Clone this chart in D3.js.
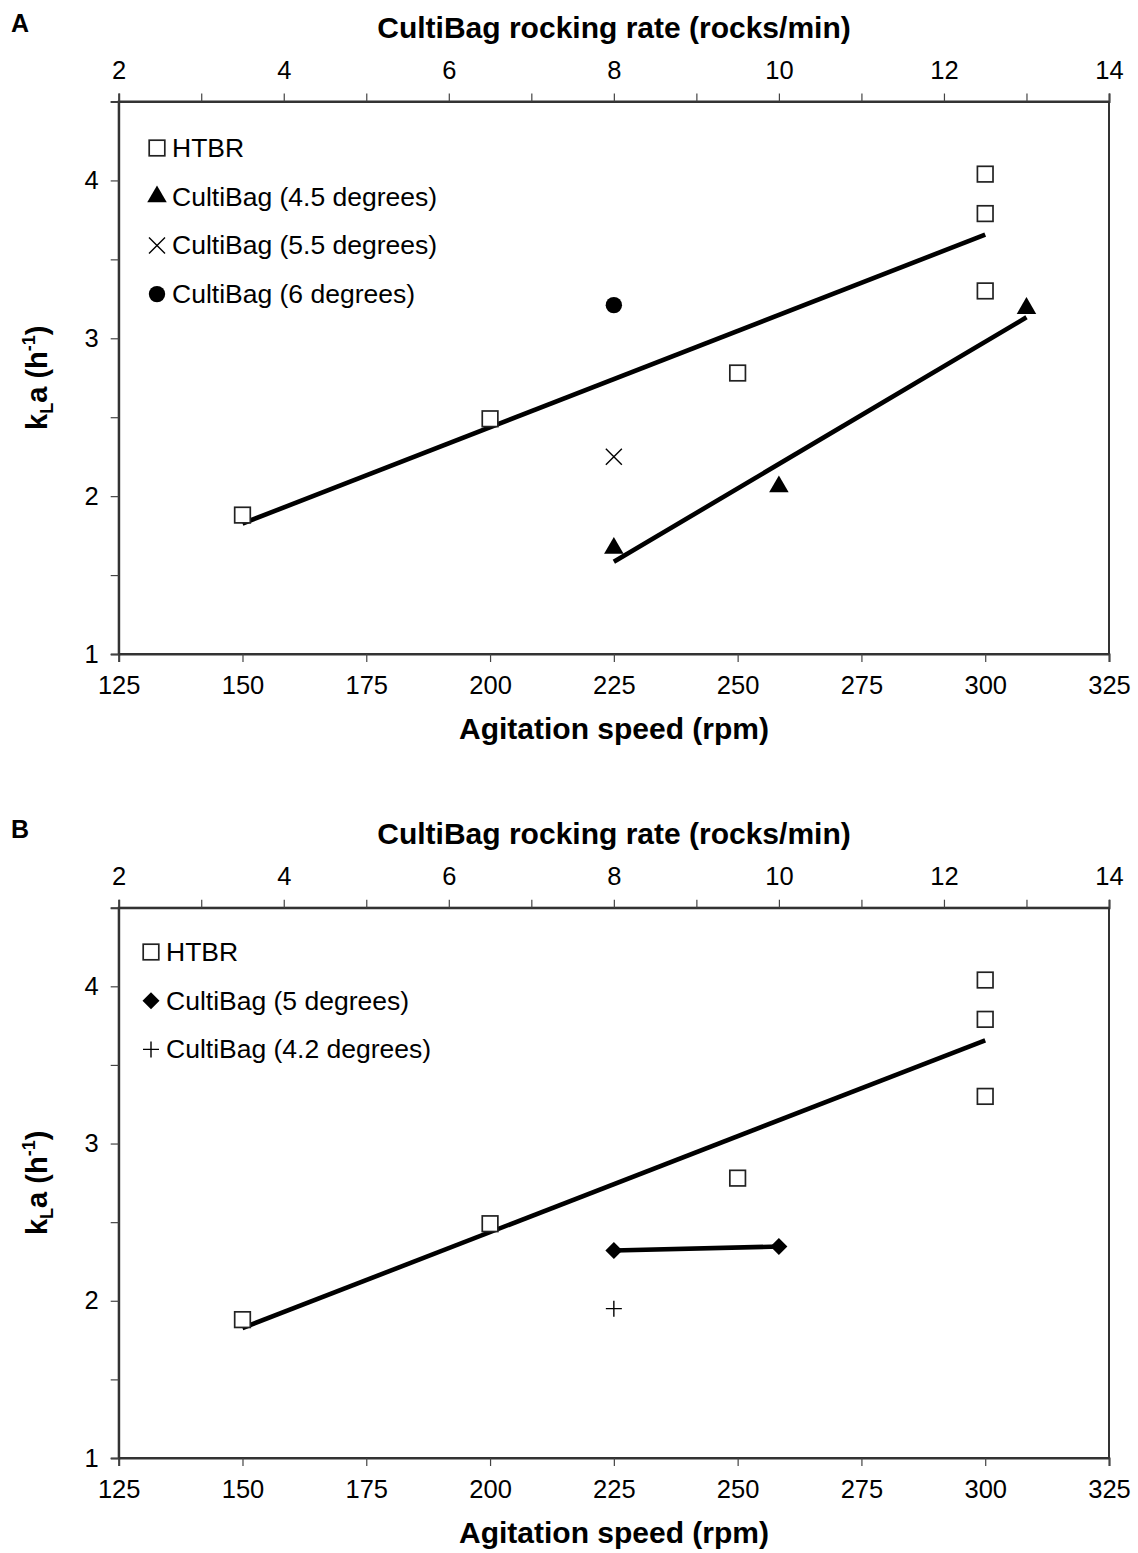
<!DOCTYPE html>
<html>
<head>
<meta charset="utf-8">
<script src="https://cdn.jsdelivr.net/npm/d3@7/dist/d3.min.js"></script>
<style>
  html, body { margin: 0; padding: 0; background: #fff; }
  svg { display: block; font-family: "Liberation Sans", Arial, sans-serif; }
</style>
</head>
<body>
<svg id="chart" width="1138" height="1553"></svg>
<script>
// ---------------- data ----------------
const rpmTicks = [125, 150, 175, 200, 225, 250, 275, 300, 325];
const rockTicks = [2, 3, 4, 5, 6, 7, 8, 9, 10, 11, 12, 13, 14];
const klaTicks = [1, 1.5, 2, 2.5, 3, 3.5, 4, 4.5];

const htbrRpm = [150, 200, 250, 300, 300, 300];
const htbrKla = [1.88, 2.49, 2.78, 4.04, 3.79, 3.30];

const cb45Rocks = [8, 10, 13];
const cb45Kla = [1.67, 2.06, 3.19];

const cb55Rocks = [8];
const cb55Kla = [2.25];

const cb6Rocks = [8];
const cb6Kla = [3.21];

const cb5Rocks = [8, 10];
const cb5Kla = [2.32, 2.345];

const cb42Rocks = [8];
const cb42Kla = [1.95];

const legendA = ["HTBR", "CultiBag (4.5 degrees)", "CultiBag (5.5 degrees)", "CultiBag (6 degrees)"];
const legendB = ["HTBR", "CultiBag (5 degrees)", "CultiBag (4.2 degrees)"];

// ---------------- helpers ----------------
function fit(xs, ys) {
  const n = xs.length;
  const mx = d3.mean(xs), my = d3.mean(ys);
  let sxy = 0, sxx = 0;
  for (let i = 0; i < n; i++) { sxy += (xs[i] - mx) * (ys[i] - my); sxx += (xs[i] - mx) ** 2; }
  const b = sxy / sxx, a = my - b * mx;
  const x0 = d3.min(xs), x1 = d3.max(xs);
  return [[x0, a + b * x0], [x1, a + b * x1]];
}

const svg = d3.select("#chart");
const FONT = "'Liberation Sans', Arial, sans-serif";

function marker(g, type, cx, cy) {
  const s = 7.8;
  if (type === "square") {
    g.append("rect").attr("x", cx - s).attr("y", cy - s).attr("width", 2 * s).attr("height", 2 * s)
      .attr("fill", "#fff").attr("stroke", "#222").attr("stroke-width", 1.7);
  } else if (type === "triangle") {
    g.append("path").attr("d", d3.symbol(d3.symbolTriangle, 165)()).attr("transform", `translate(${cx},${cy})`)
      .attr("fill", "#000");
  } else if (type === "circle") {
    g.append("circle").attr("cx", cx).attr("cy", cy).attr("r", 8.2).attr("fill", "#000");
  } else if (type === "cross") {
    g.append("path").attr("d", `M${cx - 8},${cy - 8}L${cx + 8},${cy + 8}M${cx - 8},${cy + 8}L${cx + 8},${cy - 8}`)
      .attr("stroke", "#000").attr("stroke-width", 1.4).attr("fill", "none");
  } else if (type === "diamond") {
    g.append("path").attr("d", `M${cx},${cy - 8.5}L${cx + 8.5},${cy}L${cx},${cy + 8.5}L${cx - 8.5},${cy}Z`)
      .attr("fill", "#000");
  } else if (type === "plus") {
    g.append("path").attr("d", `M${cx - 8},${cy}L${cx + 8},${cy}M${cx},${cy - 8}L${cx},${cy + 8}`)
      .attr("stroke", "#000").attr("stroke-width", 1.4).attr("fill", "none");
  }
}

function panel(cfg) {
  const left = 118.7, right = 1109;
  const top = cfg.top, bottom = cfg.bottom;
  const x = cfg.x, xr = cfg.xr;
  const y = d3.scaleLinear().domain([1, 4.5]).range([bottom, top]);
  const g = svg.append("g");

  // panel label
  g.append("text").attr("x", 11).attr("y", top - 70).attr("font-size", 25).attr("font-weight", "bold")
    .attr("font-family", FONT).text(cfg.label);

  // frame
  g.append("rect").attr("x", left).attr("y", top).attr("width", right - left).attr("height", bottom - top)
    .attr("fill", "none").attr("stroke", "#333").attr("stroke-width", 2);

  const style = sel => {
    sel.select(".domain").attr("stroke", "#333").attr("stroke-width", 2);
    sel.selectAll(".tick line").attr("stroke", "#444").attr("stroke-width", 1.2);
    sel.selectAll(".tick text").attr("font-size", 25.5).attr("font-family", FONT).attr("fill", "#000");
  };

  g.append("g").attr("transform", `translate(0,${bottom})`)
    .call(d3.axisBottom(x).tickValues(rpmTicks).tickSize(8).tickPadding(14).tickFormat(d3.format("d")))
    .call(style);

  g.append("g").attr("transform", `translate(0,${top})`)
    .call(d3.axisTop(xr).tickValues(rockTicks).tickSize(8).tickPadding(15)
      .tickFormat(d => d % 2 === 0 ? d : ""))
    .call(style);

  g.append("g").attr("transform", `translate(${left},0)`)
    .call(d3.axisLeft(y).tickValues(klaTicks).tickSize(8).tickPadding(12)
      .tickFormat(d => Number.isInteger(d) ? d : ""))
    .call(style);

  // axis titles
  g.append("text").attr("x", 614).attr("y", top - 64).attr("text-anchor", "middle")
    .attr("font-size", 30).attr("font-weight", "bold").attr("font-family", FONT)
    .text("CultiBag rocking rate (rocks/min)");
  g.append("text").attr("x", 614).attr("y", bottom + 85).attr("text-anchor", "middle")
    .attr("font-size", 30).attr("font-weight", "bold").attr("font-family", FONT)
    .text("Agitation speed (rpm)");

  const yl = g.append("text").attr("transform", `translate(47,${(top + bottom) / 2})rotate(-90)`)
    .attr("text-anchor", "middle").attr("font-size", 29).attr("font-weight", "bold").attr("font-family", FONT);
  yl.append("tspan").text("k");
  yl.append("tspan").attr("font-size", 18).attr("dy", 6).text("L");
  yl.append("tspan").attr("dy", -6).text("a (h");
  yl.append("tspan").attr("font-size", 18).attr("dy", -12).text("-1");
  yl.append("tspan").attr("dy", 12).text(")");

  const line = d3.line();

  // trend lines
  cfg.trends.forEach(t => {
    const pts = fit(t.xs, t.ys).map(p => [t.scale(p[0]), y(p[1])]);
    g.append("path").attr("d", line(pts)).attr("stroke", "#000").attr("stroke-width", 4.6)
      .attr("fill", "none").attr("stroke-linecap", "butt");
  });

  // points
  cfg.series.forEach(s => {
    s.xs.forEach((v, i) => marker(g, s.type, s.scale(v), y(s.ys[i])));
  });

  // legend
  cfg.legend.forEach((name, i) => {
    const cy = cfg.legendY + i * 48.7;
    marker(g, cfg.legendTypes[i], cfg.legendX, cy);
    g.append("text").attr("x", cfg.legendX + 15).attr("y", cy + 9).attr("font-size", 26.5)
      .attr("font-family", FONT).text(name);
  });
}

const xRpm = d3.scaleLinear().domain([125, 325]).range([118.7, 1109]);
const xRock = d3.scaleLinear().domain([2, 14]).range([118.7, 1109]);

// Panel A
panel({
  label: "A", top: 101.5, bottom: 654, x: xRpm, xr: xRock,
  trends: [
    { xs: htbrRpm, ys: htbrKla, scale: xRpm },
    { xs: cb45Rocks, ys: cb45Kla, scale: xRock }
  ],
  series: [
    { xs: htbrRpm, ys: htbrKla, scale: xRpm, type: "square" },
    { xs: cb45Rocks, ys: cb45Kla, scale: xRock, type: "triangle" },
    { xs: cb55Rocks, ys: cb55Kla, scale: xRock, type: "cross" },
    { xs: cb6Rocks, ys: cb6Kla, scale: xRock, type: "circle" }
  ],
  legend: legendA, legendTypes: ["square", "triangle", "cross", "circle"],
  legendX: 157, legendY: 148
});

// Panel B
panel({
  label: "B", top: 907.7, bottom: 1458, x: xRpm, xr: xRock,
  trends: [
    { xs: htbrRpm, ys: htbrKla, scale: xRpm },
    { xs: cb5Rocks, ys: cb5Kla, scale: xRock }
  ],
  series: [
    { xs: htbrRpm, ys: htbrKla, scale: xRpm, type: "square" },
    { xs: cb5Rocks, ys: cb5Kla, scale: xRock, type: "diamond" },
    { xs: cb42Rocks, ys: cb42Kla, scale: xRock, type: "plus" }
  ],
  legend: legendB, legendTypes: ["square", "diamond", "plus"],
  legendX: 151, legendY: 952
});
</script>
</body>
</html>
